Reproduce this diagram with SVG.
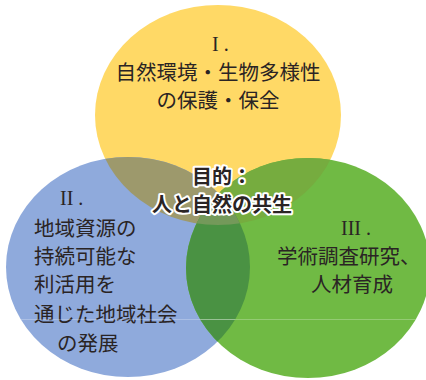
<svg xmlns="http://www.w3.org/2000/svg" width="426" height="380" viewBox="0 0 426 380">
<style>
.jp{font-family:"Noto Sans CJK JP","Noto Sans CJK SC",sans-serif;font-size:20.5px;fill:#2a2424}
.num{font-family:"Liberation Serif",serif;font-size:20px;fill:#2a2424}
.ctr{font-family:"Noto Sans CJK JP","Noto Sans CJK SC",sans-serif;font-size:20px;font-weight:bold;fill:#2a2424;stroke:#ffffff;stroke-width:4;stroke-linejoin:round;paint-order:stroke}
</style>
<defs>
<ellipse id="eY" cx="218" cy="115" rx="123" ry="110"/>
<ellipse id="eB" cx="128" cy="267" rx="122" ry="110"/>
<ellipse id="eG" cx="308" cy="268" rx="122" ry="110"/>
<clipPath id="cY"><use href="#eY"/></clipPath>
<clipPath id="cB"><use href="#eB"/></clipPath>
<clipPath id="cG"><use href="#eG"/></clipPath>
</defs>
<rect width="426" height="380" fill="#ffffff"/>
<g id="node-yellow">
<use href="#eY" fill="#FFD966"/>
<text class="num" x="212" y="51">I .</text>
<text class="jp" x="218" y="80" text-anchor="middle">自然環境・生物多様性</text>
<text class="jp" x="218" y="108" text-anchor="middle">の保護・保全</text>
</g>
<g id="node-blue">
<use href="#eB" fill="#8FAADC"/>
<text class="num" x="60" y="205">II .</text>
<text class="jp" x="34" y="236" font-size="21px">地域資源の</text>
<text class="jp" x="34" y="264" font-size="21px">持続可能な</text>
<text class="jp" x="34" y="292" font-size="21px">利活用を</text>
<text class="jp" x="34" y="322" font-size="21px">通じた地域社会</text>
<text class="jp" x="57" y="351" font-size="21px">の発展</text>
</g>
<g id="node-green">
<use href="#eG" fill="#70BA44"/>
<text class="num" x="341" y="235">III .</text>
<text class="jp" x="277" y="264">学術調査研究、</text>
<text class="jp" x="311" y="292">人材育成</text>
</g>
<g id="overlaps">
<g clip-path="url(#cY)"><use href="#eB" fill="#9D996C"/><use href="#eG" fill="#76AC3F"/></g>
<g clip-path="url(#cB)"><use href="#eG" fill="#4A9243"/></g>
<g clip-path="url(#cY)"><g clip-path="url(#cB)"><use href="#eG" fill="#74995A"/></g></g>
<g clip-path="url(#cB)"><line x1="0" y1="319.5" x2="426" y2="319.5" stroke="#ffffff" stroke-opacity="0.25"/></g>
<g clip-path="url(#cG)"><line x1="0" y1="319.5" x2="426" y2="319.5" stroke="#ffffff" stroke-opacity="0.25"/></g>
</g>
<g id="node-center">
<text class="ctr" x="222" y="184" text-anchor="middle">目的：</text>
<text class="ctr" x="222" y="212" text-anchor="middle">人と自然の共生</text>
</g>
</svg>
